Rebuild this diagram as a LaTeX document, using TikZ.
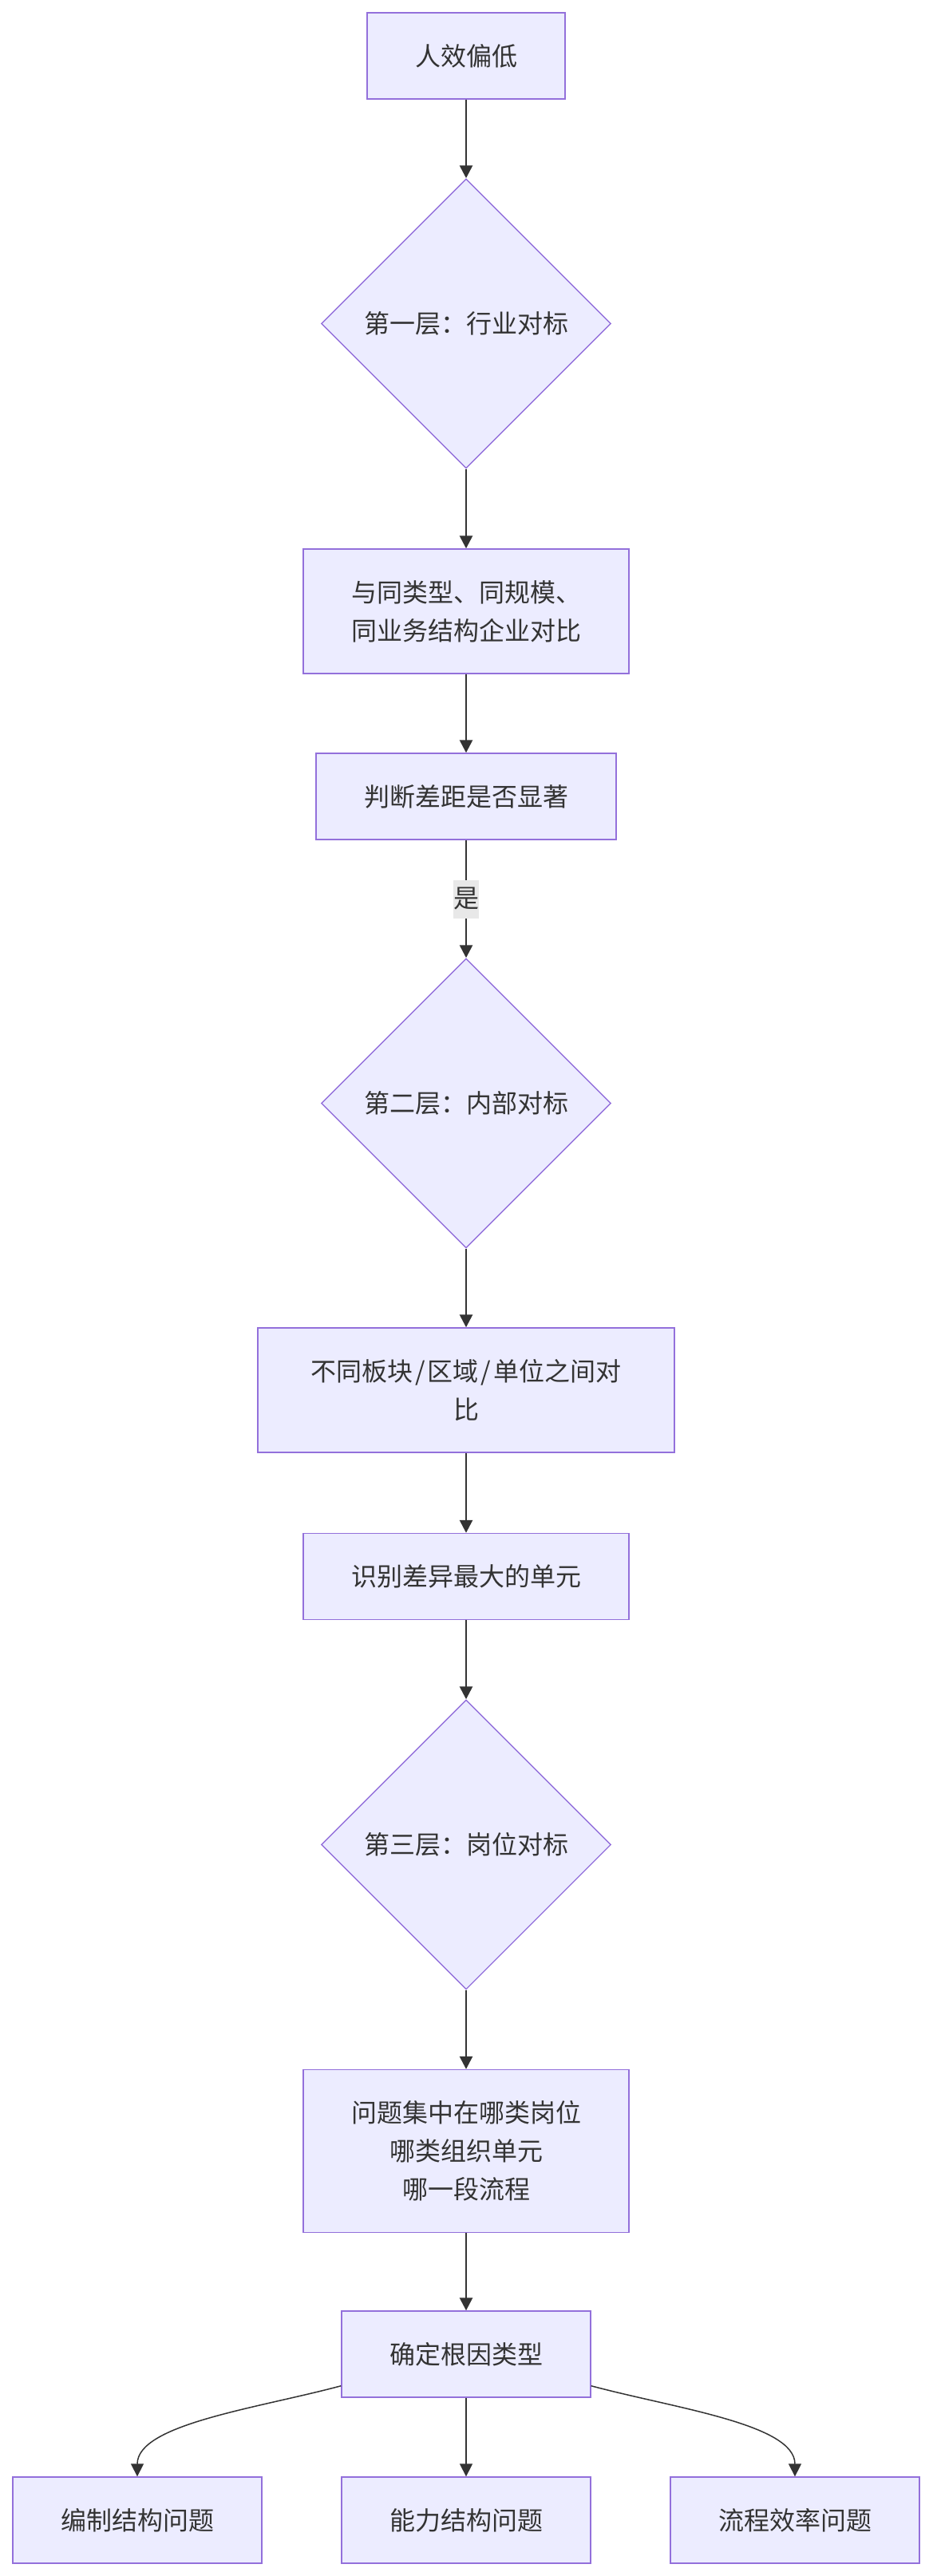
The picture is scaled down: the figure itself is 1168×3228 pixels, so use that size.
\documentclass[tikz,border=0pt]{standalone}
\usepackage{fontspec}
\setmainfont{Noto Sans CJK SC}
\usetikzlibrary{arrows.meta,shapes.geometric}

\definecolor{boxfill}{HTML}{ECECFF}
\definecolor{boxline}{HTML}{9370DB}
\definecolor{ink}{HTML}{333333}
\definecolor{lblfill}{HTML}{E8E8E8}

\begin{document}
\begin{tikzpicture}[x=0.5pt, y=-0.5pt,
  txt/.style={text=ink, font=\fontsize{16pt}{24pt}\selectfont},
  box/.style={txt, draw=boxline, fill=boxfill, line width=0.7pt, align=center,
    inner xsep=30pt, inner ysep=0pt, minimum height=54pt},
  dia/.style={txt, diamond, aspect=1, draw=boxline, fill=boxfill, line width=0.7pt,
    inner sep=0pt, minimum width=181.5pt, minimum height=181.5pt},
  arr/.style={draw=ink, line width=1.3pt, -{Triangle[length=8pt, width=8pt]}},
  thin arr/.style={arr, line width=0.75pt},
  lbl/.style={txt, fill=lblfill, inner sep=0pt, minimum width=16pt, minimum height=24pt}]

  \useasboundingbox (0,0) rectangle (1168,3228);

  % Layer one
  \node (start) at (584,70) [box] {人效偏低};
  \node (lay1) at (584,405.5) [dia] {第一层：行业对标};
  \node (peer) at (584,766) [box, minimum height=78pt] {与同类型、同规模、\\同业务结构企业对比};
  \node (gap) at (584,998) [box] {判断差距是否显著};

  % Layer two
  \node (lay2) at (584,1382.5) [dia] {第二层：内部对标};
  \node (units) at (584,1742) [box, minimum height=78pt, minimum width=261pt]
    {不同板块\hspace{1.5pt}/\hspace{1.5pt}区域\hspace{1.5pt}/\hspace{1.5pt}单位之间对\\比};
  \node (maxdiff) at (584,1975.5) [box] {识别差异最大的单元};

  % Layer three
  \node (lay3) at (584,2311.5) [dia] {第三层：岗位对标};
  \node (focus) at (584,2695.5) [box, minimum height=102pt] {问题集中在哪类岗位\\哪类组织单元\\哪一段流程};
  \node (cause) at (584,2950) [box] {确定根因类型};

  % Root causes
  \node (staff) at (172,3158) [box] {编制结构问题};
  \node (skill) at (584,3158) [box] {能力结构问题};
  \node (flow) at (996,3158) [box] {流程效率问题};

  % Main chain
  \draw[arr] (start) -- (lay1);
  \draw[arr] (lay1) -- (peer);
  \draw[arr] (peer) -- (gap);
  \draw[arr] (gap) -- node[lbl] {是} (lay2);
  \draw[arr] (lay2) -- (units);
  \draw[arr] (units) -- (maxdiff);
  \draw[arr] (maxdiff) -- (lay3);
  \draw[arr] (lay3) -- (focus);
  \draw[arr] (focus) -- (cause);

  % Split into three causes
  \draw[thin arr] ([yshift=7.5pt]cause.south west)
    to[out=195, in=90, in looseness=0.6] (staff.north);
  \draw[thin arr] (cause) -- (skill);
  \draw[thin arr] ([yshift=7.5pt]cause.south east)
    to[out=-15, in=90, in looseness=0.6] (flow.north);
\end{tikzpicture}
\end{document}
